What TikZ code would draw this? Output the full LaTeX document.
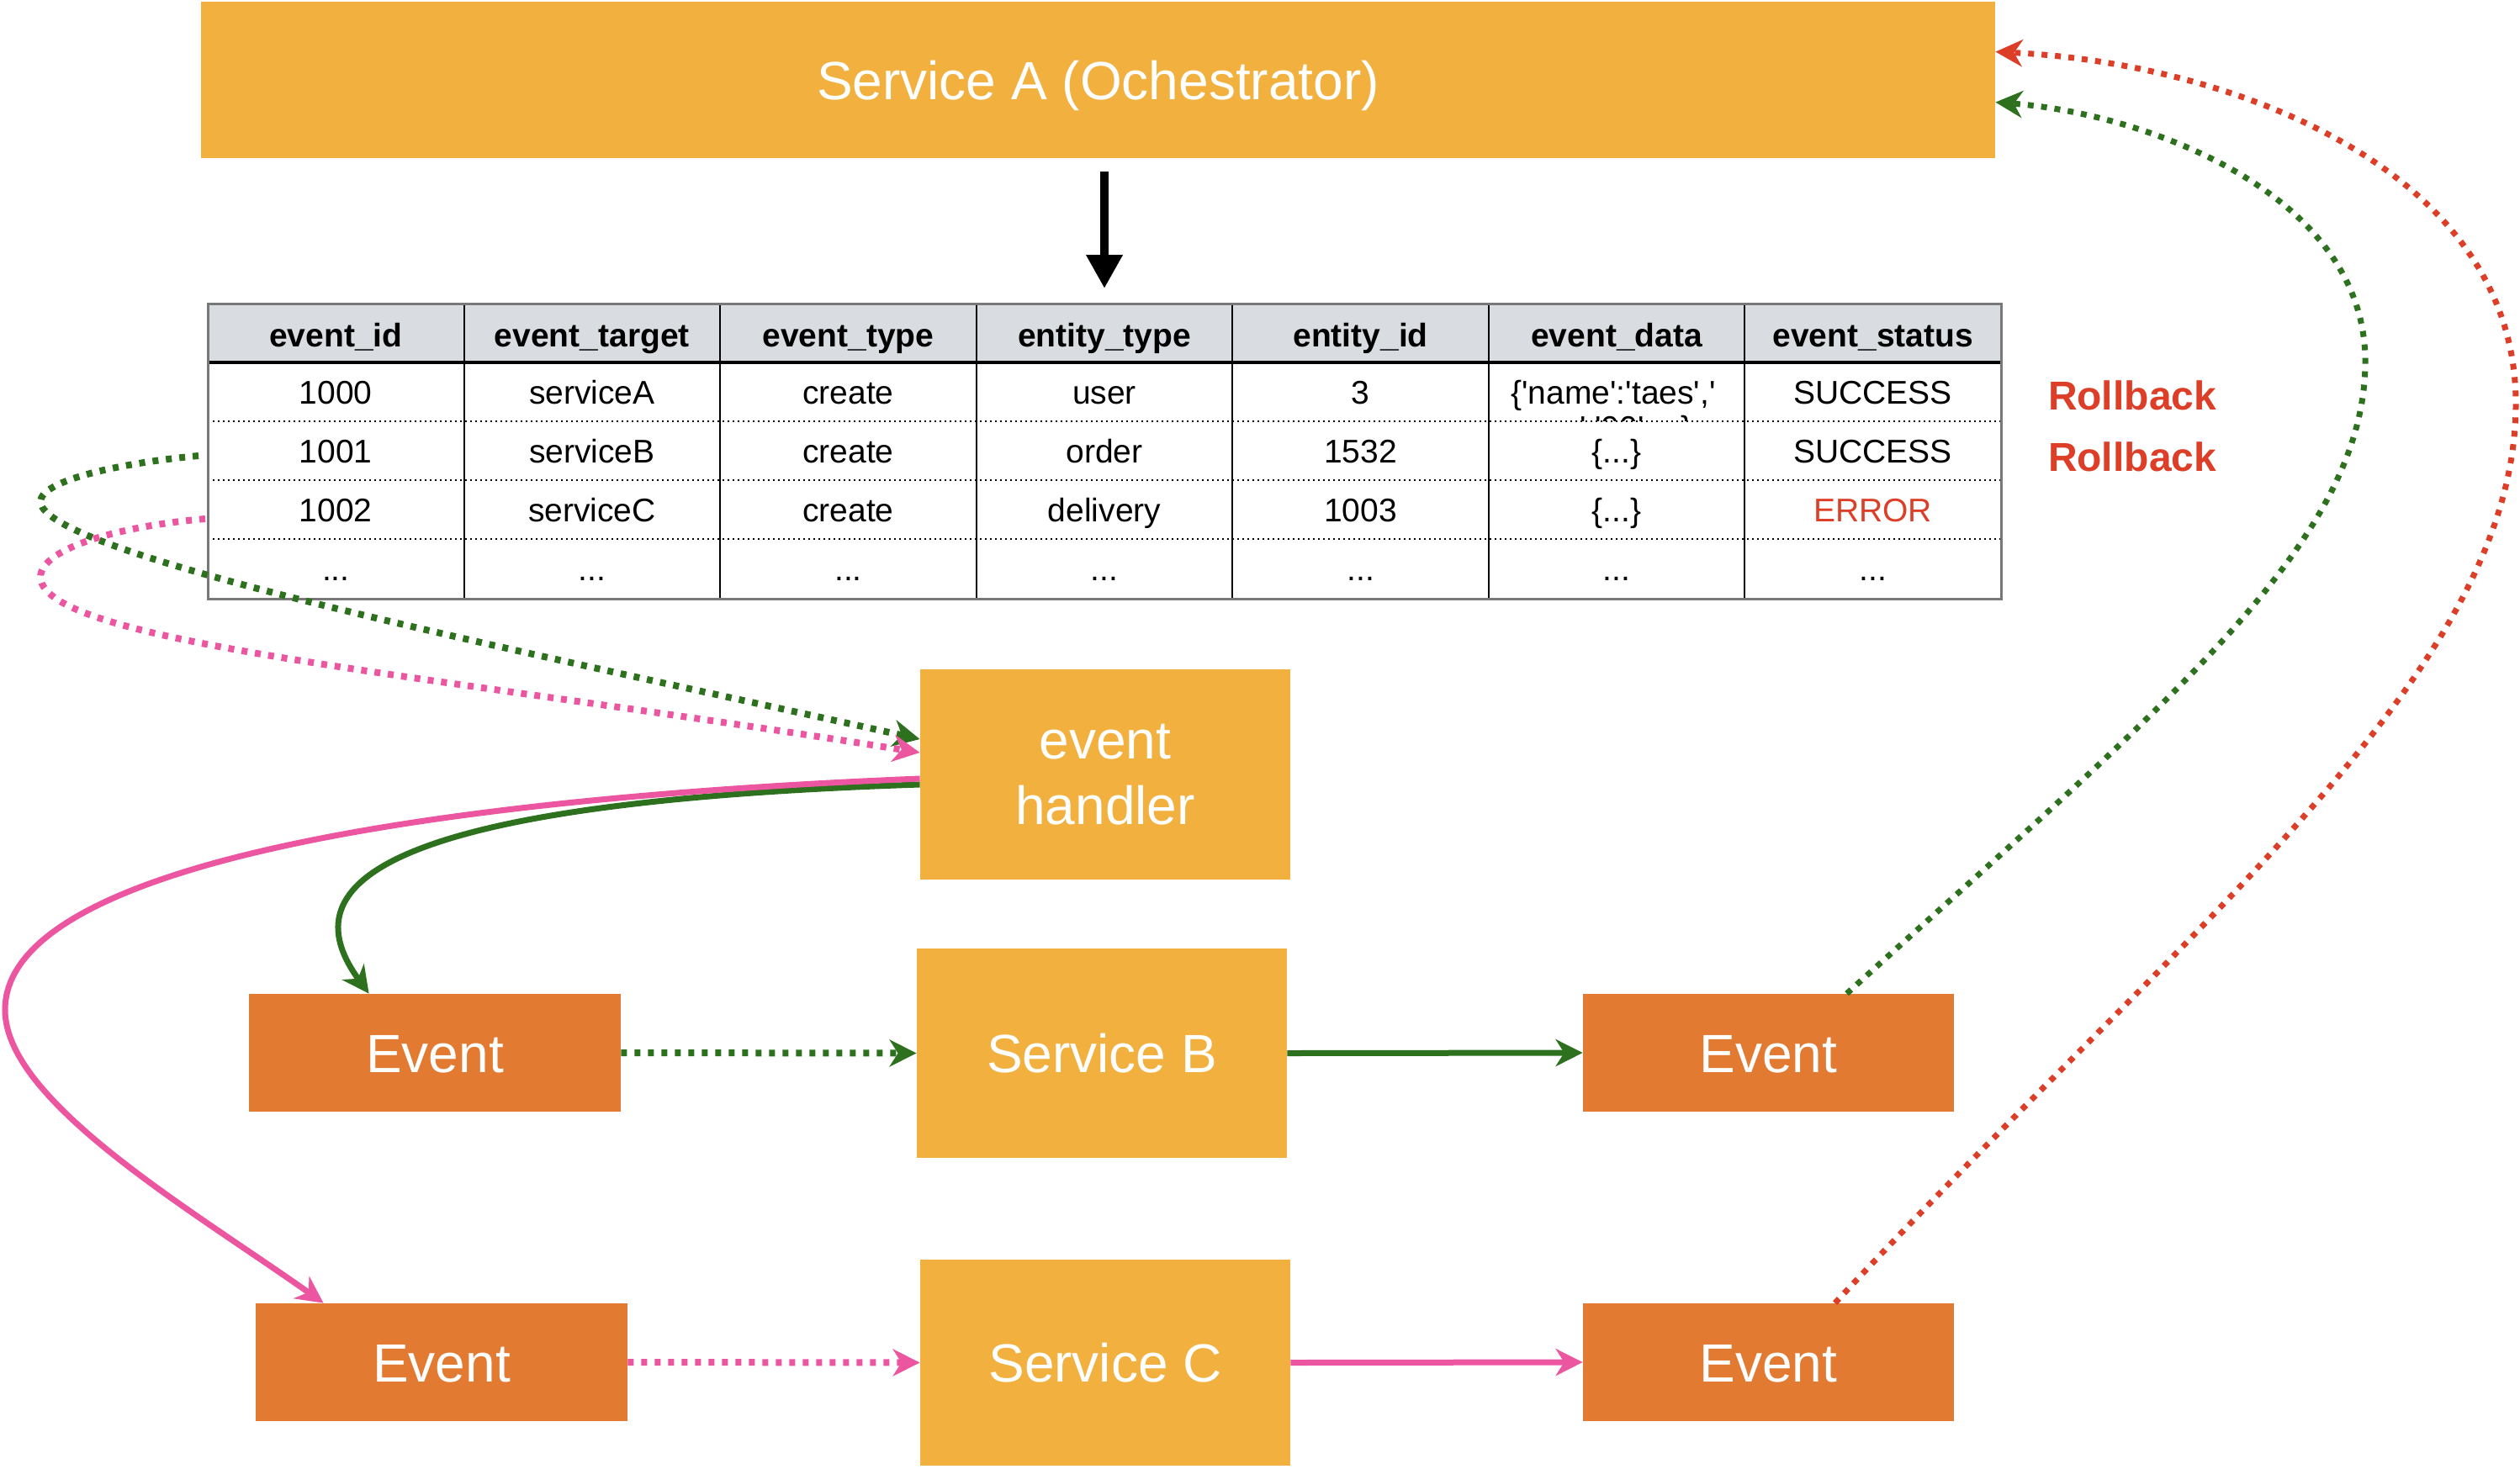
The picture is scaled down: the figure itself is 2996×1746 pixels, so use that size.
\documentclass[tikz,border=0pt]{standalone}
\usepackage{fontspec}
\setmainfont{Liberation Sans}[Ligatures=TeXOff]
\usetikzlibrary{arrows.meta,calc}
\definecolor{svc}{RGB}{242,177,63}
\definecolor{evt}{RGB}{226,122,49}
\definecolor{grn}{RGB}{45,112,30}
\definecolor{pnk}{RGB}{236,85,160}
\definecolor{rbred}{RGB}{221,62,40}
\definecolor{hdr}{RGB}{217,221,225}
\definecolor{bord}{RGB}{120,120,120}
\newcommand{\ellip}{...}
\begin{document}
\begin{tikzpicture}[x=0.5pt,y=-0.5pt,
  box/.style={draw=none, inner sep=0pt, text=white, font=\fontsize{32}{39}\selectfont, align=center},
  svcbox/.style={box, fill=svc},
  evtbox/.style={box, fill=evt, minimum width=221pt, minimum height=70pt},
  capfix/.style={text height=23pt, text depth=0pt},
  tip/.style={-{Stealth[length=16pt,width=16pt,inset=5pt]}},
  dotline/.style={line width=4pt, dash pattern=on 3.5pt off 4.5pt},
  rbline/.style={line width=3.5pt, dash pattern=on 3.5pt off 4.5pt},
  solidline/.style={line width=3.5pt},
  cell/.style={inner sep=0pt, anchor=base, font=\fontsize{19.5}{23}\selectfont},
  hcell/.style={cell, font=\fontsize{19.5}{23}\selectfont\bfseries},
  rb/.style={inner sep=0pt, anchor=base, text=rbred, font=\fontsize{24}{28}\selectfont\bfseries},
]
\useasboundingbox (0,0) rectangle (2996,1746);

% ---------- boxes ----------
\node[svcbox, capfix, minimum width=1066.5pt, minimum height=93pt] (sa) at (1305.5,95) {Service A (Ochestrator)};
\node[svcbox, minimum width=220pt, minimum height=125pt] (eh) at (1314,921) {event\\handler};
\node[svcbox, capfix, minimum width=220pt, minimum height=124.5pt] (sb) at (1310,1252.5) {Service B};
\node[svcbox, capfix, minimum width=220pt, minimum height=122.5pt] (sc) at (1314,1620.5) {Service C};
\node[evtbox, capfix] (e1) at (517,1252) {Event};
\node[evtbox, capfix] (e2) at (525,1620) {Event};
\node[evtbox, capfix, minimum width=220.5pt] (e3) at (2102.5,1252) {Event};
\node[evtbox, capfix, minimum width=220.5pt] (e4) at (2102.5,1620) {Event};

% ---------- table ----------
\fill[hdr] (247,361) rectangle (2379,431);
\foreach \i in {1,2,3,4,5,6}
  \draw[line width=1pt] ({247+\i*304.571},361) -- ({247+\i*304.571},712);
\foreach \y in {501,571,641}
  \draw[line width=1.2pt, dash pattern=on 1.2pt off 1.8pt] (247,\y) -- (2379,\y);
\draw[line width=2pt] (247,431) -- (2379,431);
\draw[bord, line width=1.5pt] (247,361) rectangle (2379,712);

\foreach \t [count=\i] in {event\_id,event\_target,event\_type,entity\_type,entity\_id,event\_data,event\_status}
  \node[hcell] (h\i) at ({247+304.571*(\i-0.5)},412) {\t};
\foreach \t [count=\i] in {1000,serviceA,create,user,3}
  \node[cell] (ra\i) at ({247+304.571*(\i-0.5)},480) {\t};
\node[cell] (ra6) at (1918,480) {\{'name':'taes','};
\begin{scope}
  \clip (1769,431) rectangle (2073,500);
  \node[cell] (ra6b) at (1912,522) {age':'00',\ellip\}};
\end{scope}
\node[cell] (ra7) at (2226.7,480) {SUCCESS};
\foreach \t [count=\i] in {1001,serviceB,create,order,1532}
  \node[cell] (rb\i) at ({247+304.571*(\i-0.5)},550) {\t};
\node[cell] (rb6) at (1922.1,550) {\{\ellip\}};
\node[cell] (rb7) at (2226.7,550) {SUCCESS};
\foreach \t [count=\i] in {1002,serviceC,create,delivery,1003}
  \node[cell] (rc\i) at ({247+304.571*(\i-0.5)},620.5) {\t};
\node[cell] (rc6) at (1922.1,620.5) {\{\ellip\}};
\node[cell, text=rbred] (rc7) at (2226.7,620.5) {ERROR};
\foreach \i in {1,2,3,4,5,6,7}
  \node[cell] (rd\i) at ({247+304.571*(\i-0.5)},690) {\ellip};

\node[rb] (rol1) at (2535,487) {Rollback};
\node[rb] (rol2) at (2535,560) {Rollback};

% ---------- connectors ----------
\coordinate (atop) at (1313,204);
\coordinate (abot) at (1313,343);
\draw[line width=5pt, -{Triangle[length=20pt,width=20.5pt]}] (atop) -- (abot);

\coordinate (g0) at (236,542);
\coordinate (p0) at (244,617);
\draw[grn, dotline, tip] (g0) .. controls (150,550) and (48,570) .. (48,597)
  .. controls (55,660) and (600,770) .. ($(eh.west)+(0,-42)$);
\draw[pnk, dotline, tip] (p0) .. controls (150,625) and (48,650) .. (48,687)
  .. controls (55,765) and (500,800) .. ($(eh.west)+(0,-26)$);

\draw[grn, solidline, tip] ($(eh.west)+(0,12)$) .. controls (420,955) and (350,1060) .. ($(e1.north west)+(143,0)$);
\draw[pnk, solidline, tip] ($(eh.west)+(0,5)$) .. controls (500,950) and (6,1030) .. (6,1201)
  .. controls (6,1310) and (230,1440) .. ($(e2.north west)+(81,0)$);

\draw[grn, dotline, tip] (e1.east) -- (sb.west);
\draw[pnk, dotline, tip] (e2.east) -- (sc.west);
\draw[grn, solidline, tip] (sb.east) -- (e3.west);
\draw[pnk, solidline, tip] (sc.east) -- (e4.west);

\draw[grn, rbline, tip] ($(e3.north west)+(314,0)$) .. controls (2560,850) and (2812,650) .. (2812,430)
  .. controls (2812,230) and (2550,135) .. ($(sa.north east)+(0,120)$);
\draw[rbred, rbline, tip] ($(e4.north west)+(300,0)$) .. controls (2600,1100) and (2991,800) .. (2991,480)
  .. controls (2991,200) and (2650,75) .. ($(sa.north east)+(0,60)$);
\end{tikzpicture}
\end{document}
